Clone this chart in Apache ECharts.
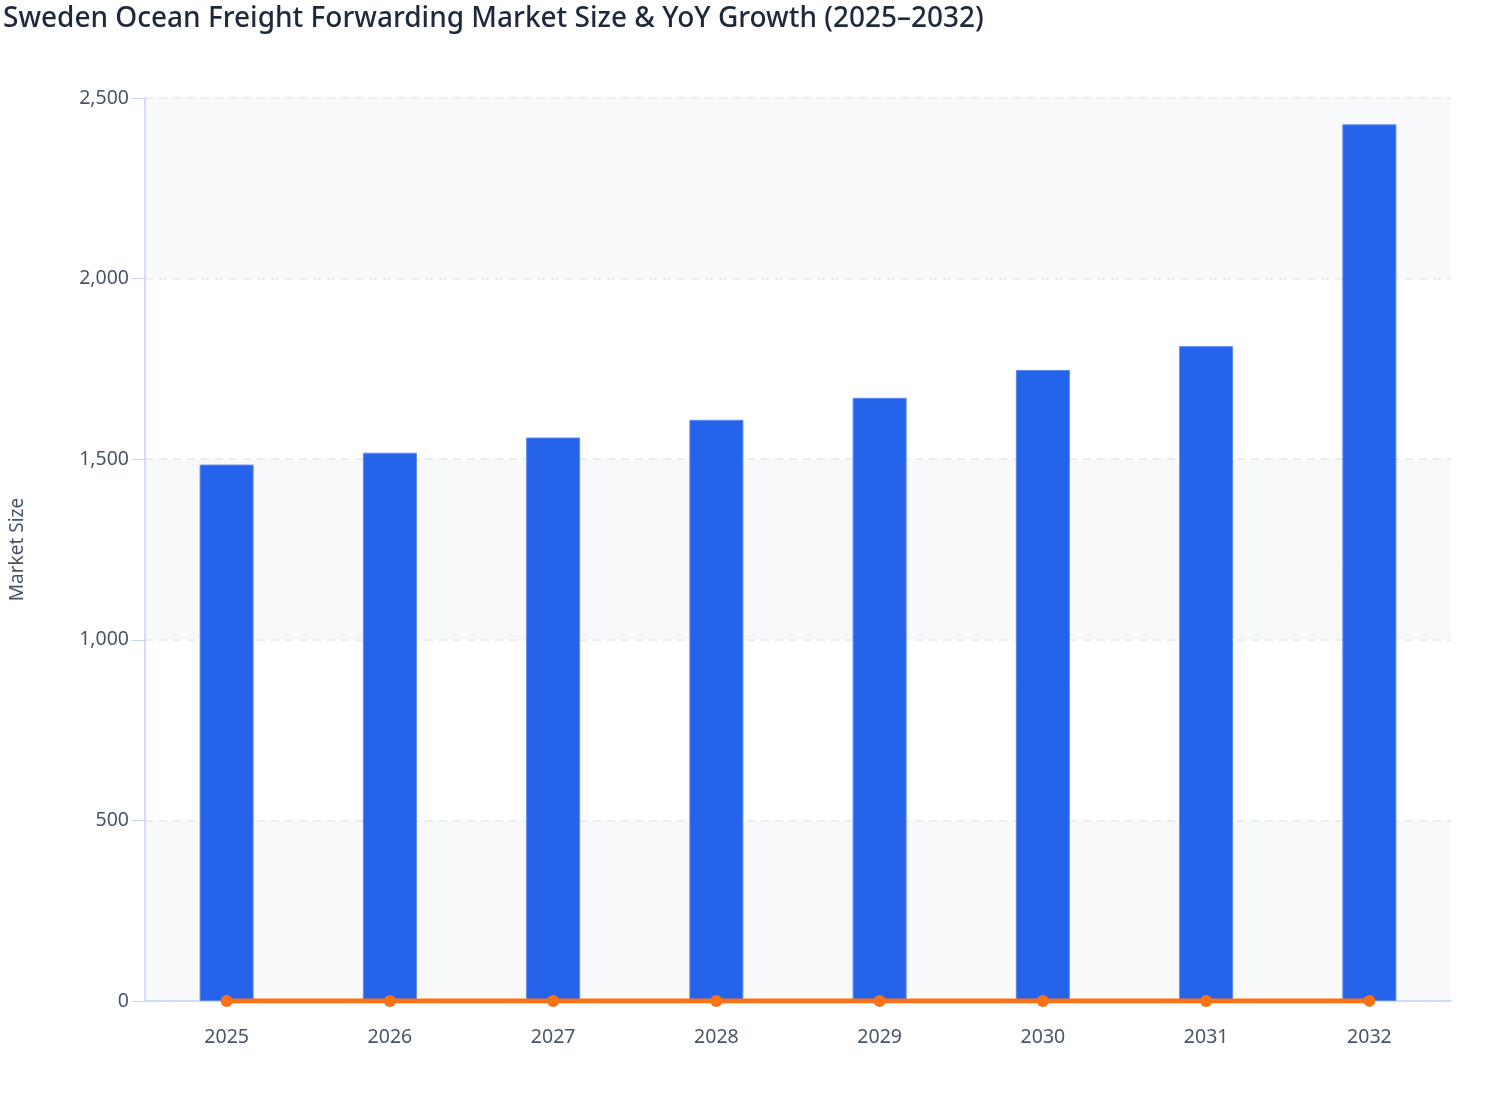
<!DOCTYPE html>
<html>
<head>
<meta charset="utf-8">
<script src="https://cdn.jsdelivr.net/npm/echarts@6/dist/echarts.min.js"></script>
<style>html,body{margin:0;padding:0;background:#fff}#c{width:1508px;height:1120px}</style>
</head>
<body>
<div id="c"></div>
<script>
const years = ['2025','2026','2027','2028','2029','2030','2031','2032'];
const marketSize = [1485, 1518, 1560, 1609, 1670, 1747, 1813, 2427];
const yoyGrowth = [0.021, 0.022, 0.028, 0.031, 0.038, 0.047, 0.038, 0.339];
const yTicks = [0, 500, 1000, 1500, 2000, 2500];

const chart = echarts.init(document.getElementById('c'));
const font = 'Noto Sans';
chart.setOption({
  animation: false,
  backgroundColor: '#ffffff',
  title: {
    text: 'Sweden Ocean Freight Forwarding Market Size & YoY Growth (2025\u20132032)',
    left: -2, top: 0,
    textStyle: { fontFamily: font, fontSize: 28, fontWeight: 500, color: '#1e293b' }
  },
  grid: { left: 144, right: 57, top: 98, bottom: 119, containLabel: false },
  xAxis: {
    type: 'category',
    data: years,
    axisLine: { lineStyle: { color: '#c7d2fe', width: 1.5 } },
    axisTick: { alignWithLabel: true, lineStyle: { color: '#c7d2fe' } },
    axisLabel: { fontFamily: font, fontSize: 19.5, color: '#475569', margin: 26 }
  },
  yAxis: {
    type: 'value',
    min: yTicks[0], max: yTicks[yTicks.length - 1], interval: 500,
    name: 'Market Size',
    nameLocation: 'middle',
    nameGap: 118,
    nameTextStyle: { fontFamily: font, fontSize: 19, color: '#475569' },
    axisLine: { show: true, lineStyle: { color: '#c7d2fe', width: 1.5 } },
    axisTick: { show: true, length: 14, lineStyle: { color: '#c7d2fe' } },
    axisLabel: {
      fontFamily: font, fontSize: 19.5, color: '#475569', margin: 16,
      formatter: v => v.toLocaleString('en-US')
    },
    splitLine: { lineStyle: { color: '#e5e7eb', type: [8, 6], width: 1.5 } },
    splitArea: { show: true, areaStyle: { color: ['#f8f9fb', '#ffffff'] } }
  },
  series: [
    {
      name: 'Market Size',
      type: 'bar',
      data: marketSize,
      barWidth: 54,
      itemStyle: { color: '#2563eb', borderColor: '#5b8af0', borderWidth: 1 }
    },
    {
      name: 'YoY Growth',
      type: 'line',
      data: yoyGrowth,
      symbol: 'circle',
      symbolSize: 12,
      lineStyle: { color: '#f97316', width: 5 },
      itemStyle: { color: '#f97316' },
      z: 5
    }
  ]
});
</script>
</body>
</html>
